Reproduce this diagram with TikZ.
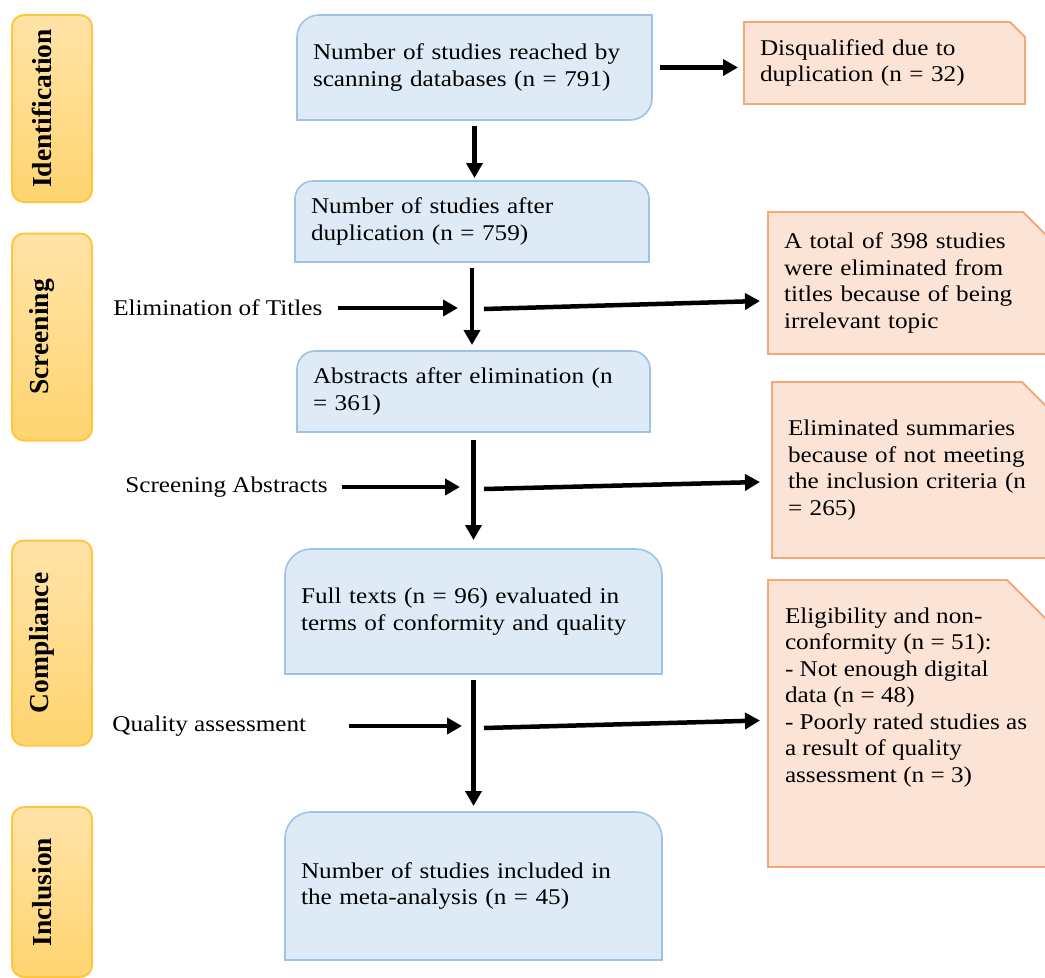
\documentclass[tikz,border=0pt]{standalone}
\usepackage{fontspec}
\setmainfont{Liberation Serif}[FakeStretch=1.12]
\newfontfamily\stagefont{Liberation Serif}
\usetikzlibrary{arrows.meta,backgrounds}

\definecolor{stepfill}{HTML}{DEEBF7}
\definecolor{stepline}{HTML}{9DC3E6}
\definecolor{remfill}{HTML}{FBE3D6}
\definecolor{remline}{HTML}{F3A878}
\definecolor{stagetop}{HTML}{FFE3A8}
\definecolor{stagebot}{HTML}{FFD470}
\definecolor{stageline}{HTML}{FFC740}

% outlines, drawn behind the nodes (radius given as a plain number)
\newcommand{\roundtop}[2]{%
  \filldraw[stepout] (#1.south west) -- ([yshift={-#2}]#1.north west)
    .. controls ([yshift={-0.45*#2}]#1.north west) and ([xshift={0.45*#2}]#1.north west)
    .. ([xshift={#2}]#1.north west)
    -- ([xshift={-#2}]#1.north east)
    .. controls ([xshift={-0.45*#2}]#1.north east) and ([yshift={-0.45*#2}]#1.north east)
    .. ([yshift={-#2}]#1.north east)
    -- (#1.south east) -- cycle;}
\newcommand{\rounddiag}[2]{%
  \filldraw[stepout] (#1.south west) -- ([yshift={-#2}]#1.north west)
    .. controls ([yshift={-0.45*#2}]#1.north west) and ([xshift={0.45*#2}]#1.north west)
    .. ([xshift={#2}]#1.north west)
    -- (#1.north east) -- ([yshift={#2}]#1.south east)
    .. controls ([yshift={0.45*#2}]#1.south east) and ([xshift={-0.45*#2}]#1.south east)
    .. ([xshift={-#2}]#1.south east)
    -- cycle;}
\newcommand{\snipped}[2]{%
  \filldraw[remout] (#1.south west) -- (#1.north west)
    -- ([xshift=-#2]#1.north east) -- ([yshift=-#2]#1.north east)
    -- (#1.south east) -- cycle;}

\begin{document}
\begin{tikzpicture}[x=1pt, y=-1pt,
    every node/.style = {font=\fontsize{22.5}{26.5}\selectfont, outer sep=0pt},
    stage/.style = {draw=stageline, line width=2pt, rounded corners=12pt,
      top color=stagetop, bottom color=stagebot, minimum width=80pt,
      inner sep=0pt, font=\stagefont\bfseries\fontsize{27.5}{30}\selectfont},
    stepbox/.style = {inner xsep=16pt, inner ysep=0pt, align=left},
    rembox/.style = {inner xsep=16pt, inner ysep=0pt, align=left, anchor=west},
    stepout/.style = {draw=stepline, fill=stepfill, line width=1.6pt},
    remout/.style = {draw=remline, fill=remfill, line width=1.8pt},
    arr/.style = {line width=4.5pt, -{Triangle[length=15pt, width=16pt]}}]
  \useasboundingbox (0,0) rectangle (1045,978);

  % stages
  \node[stage, minimum height=187pt] (ident) at (52,108.5) {\rotatebox{90}{Identification}\hspace*{20pt}};
  \node[stage, minimum height=207pt] (screen) at (52,337) {\rotatebox{90}{Screening}\hspace*{20pt}};
  \node[stage, minimum height=205pt] (compl) at (52,643) {\rotatebox{90}{Compliance}\hspace*{20pt}};
  \node[stage, minimum height=170pt] (incl) at (52,892) {\rotatebox{90}{Inclusion}\hspace*{20pt}};

  % main column
  \node[stepbox, text width=323pt, minimum height=105pt] (found) at (474.5,67.5)
    {Number of studies reached by\\scanning databases (n = 791)};
  \node[stepbox, text width=322pt, minimum height=81pt] (dedup) at (472,221.5)
    {Number of studies after\\duplication (n = 759)};
  \node[stepbox, text width=321pt, minimum height=81pt] (abstr) at (473.5,391.5)
    {Abstracts after elimination (n\\= 361)};
  \node[stepbox, text width=345pt, minimum height=125pt] (full) at (473.5,611.5)
    {Full texts (n = 96) evaluated in\\terms of conformity and quality};
  \node[stepbox, text width=345pt, minimum height=148pt] (meta) at (473.5,886)
    {Number of studies included in\\the meta-analysis (n = 45)};

  % removed
  \node[rembox, text width=249pt, minimum height=82pt] (dup) at (744,63)
    {Disqualified due to\\duplication (n = 32)};
  \node[rembox, text width=250pt, minimum height=142pt] (remtitle) at (768,283)
    {A total of 398 studies\\were eliminated from\\titles because of being\\irrelevant topic};
  \node[rembox, text width=250pt, minimum height=176pt] (remabs) at (772,470)
    {Eliminated summaries\\because of not meeting\\the inclusion criteria (n\\= 265)};
  \node[rembox, inner xsep=0pt, minimum height=287pt] (remfull) at (768,723.5)
    {\hspace{17pt}\parbox[c][232pt][t]{250pt}{\raggedright Eligibility and non-\\conformity (n = 51):\\- Not enough digital\\data (n = 48)\\- Poorly rated studies as\\a result of quality\\assessment (n = 3)}\hspace*{15pt}};

  \begin{scope}[on background layer]
    \rounddiag{found}{22}
    \roundtop{dedup}{18}
    \roundtop{abstr}{18}
    \roundtop{full}{26}
    \roundtop{meta}{26}
    \snipped{dup}{15pt}
    \snipped{remtitle}{27pt}
    \snipped{remabs}{32pt}
    \snipped{remfull}{43pt}
  \end{scope}

  % side steps
  \node[anchor=west] (titles) at (110,308) {Elimination of Titles};
  \node[anchor=west] (screenabs) at (122,487) {Screening Abstracts};
  \node[anchor=west] (quality) at (109,726) {Quality assessment};
  \coordinate (titlesIn) at (458,308);
  \coordinate (titlesOut) at (484,309);
  \coordinate (screenIn) at (460,487);
  \coordinate (screenOut) at (484,489);
  \coordinate (qualityIn) at (462,726);
  \coordinate (qualityOut) at (484,728);

  \draw[arr] ([xshift=8pt]found.east) -- ([xshift=-6pt]found.east -| dup.west);
  \draw[arr] ([yshift=-6pt]found.south) -- ([yshift=3pt]found.south |- dedup.north);
  \draw[arr] ([yshift=-6pt]dedup.south) -- ([yshift=6pt]dedup.south |- abstr.north);
  \draw[arr] ([yshift=-8pt]abstr.south) -- ([yshift=9pt]abstr.south |- full.north);
  \draw[arr] ([yshift=-6pt]full.south) -- ([yshift=6pt]full.south |- meta.north);

  \draw[arr] ([xshift=12pt]titles.east) -- (titlesIn);
  \draw[arr] (titlesOut) -- ([xshift=-8pt,yshift=-18pt]remtitle.west);
  \draw[arr] ([xshift=11pt]screenabs.east) -- (screenIn);
  \draw[arr] (screenOut) -- ([xshift=-12pt,yshift=-12pt]remabs.west);
  \draw[arr] ([xshift=39pt]quality.east) -- (qualityIn);
  \draw[arr] (qualityOut) -- ([xshift=-8pt,yshift=3pt]remfull.west);
\end{tikzpicture}
\end{document}
